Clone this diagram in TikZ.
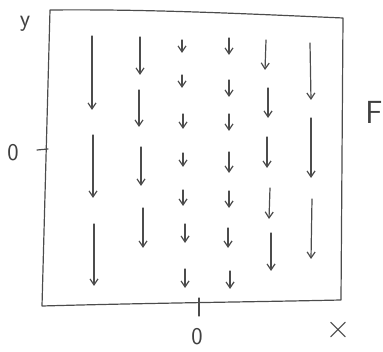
\documentclass[tikz,border=0pt]{standalone}
\usetikzlibrary{arrows.meta}
\begin{document}
\begin{tikzpicture}[x=1pt,y=-1pt,
  pencil/.style={draw=black!70, line width=1.2pt, line cap=round, line join=round},
  vec/.style={pencil, -{Straight Barb[length=6pt,width=8pt]}},
  lbl/.style={text=black!75, font=\sffamily\fontsize{24}{26}\selectfont, inner sep=0pt}]
\useasboundingbox (0,0) rectangle (383,352);
% frame
\draw[pencil] (50,10) .. controls (150,9) and (250,14) .. (343,18)
  -- (341,300) .. controls (250,302) and (150,303) .. (42,306) -- cycle;
% ticks
\draw[pencil] (37,150) -- (48,149);
\draw[pencil] (199,298) -- (199,316);
% labels
\node[lbl] (ylab) at (25,24) {y};
\node[lbl, font=\fontsize{34}{36}\selectfont] (xlab) at (338,330) {×};
\node[lbl] (y0) at (13,153) {0};
\node[lbl] (x0) at (197,337) {0};
\node[lbl, font=\sffamily\fontsize{32}{34}\selectfont] (F) at (374,112) {F};
% column 1
\draw[vec] (92,36) -- (92,110);
\draw[vec] (93,135) -- (93,198);
\draw[vec] (94,224) -- (94,286);
% column 2
\draw[vec] (140,37) -- (140,75);
\draw[vec] (139,90) -- (139,127);
\draw[vec] (141,147) -- (141,186);
\draw[vec] (143,208) -- (143,248);
% column 3
\draw[vec] (182,40) -- (182,53);
\draw[vec] (182,75) -- (182,88);
\draw[vec] (183,114) -- (183,129);
\draw[vec] (183,153) -- (183,167);
\draw[vec] (183,190) -- (183,206);
\draw[vec] (185,224) -- (185,243);
\draw[vec] (185,269) -- (185,288);
% column 4
\draw[vec] (229,38) -- (229,55);
\draw[vec] (229,80) -- (229,97);
\draw[vec] (229,114) -- (229,131);
\draw[vec] (229,152) -- (229,173);
\draw[vec] (229,191) -- (229,208);
\draw[vec] (228,228) -- (228,248);
\draw[vec] (230,271) -- (230,289);
% column 5
\draw[vec] (266,40) -- (265,70);
\draw[vec] (268,88) -- (268,118);
\draw[vec] (267,137) -- (267,168);
\draw[vec] (270,188) -- (269,219);
\draw[vec] (271,233) -- (271,271);
% column 6
\draw[vec] (310,43) -- (311,100);
\draw[vec] (311,118) -- (311,178);
\draw[vec] (312,199) -- (311,259);
\end{tikzpicture}
\end{document}
